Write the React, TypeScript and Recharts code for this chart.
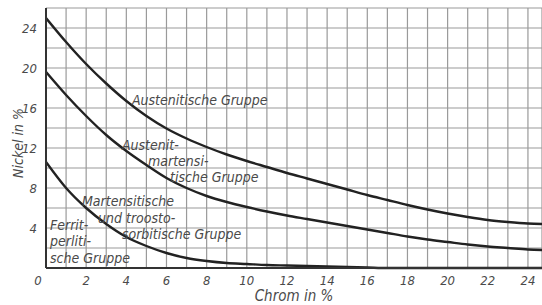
import React from "react";
import {
  LineChart,
  Line,
  XAxis,
  YAxis,
  CartesianGrid,
  ReferenceDot,
} from "recharts";

// Chrom in % (x)
const chrom = [0, 1, 2, 3, 4, 5, 6, 7, 8, 9, 10, 11, 12, 13, 14, 15, 16, 17, 18, 19, 20, 21, 22, 23, 24, 24.7];
// Nickel in % boundaries
const austenitisch = [25.0, 22.6, 20.4, 18.45, 16.7, 15.2, 13.95, 12.95, 12.1, 11.35, 10.7, 10.1, 9.5, 8.95, 8.4, 7.85, 7.3, 6.8, 6.3, 5.85, 5.45, 5.1, 4.8, 4.6, 4.45, 4.4];
const martensitisch = [19.6, 17.3, 15.2, 13.3, 11.7, 10.3, 9.0, 8.0, 7.2, 6.6, 6.1, 5.65, 5.25, 4.9, 4.55, 4.2, 3.85, 3.5, 3.15, 2.85, 2.6, 2.35, 2.15, 2.0, 1.85, 1.8];
const perlitisch = [10.6, 8.0, 6.0, 4.4, 3.1, 2.2, 1.5, 1.0, 0.7, 0.5, 0.4, 0.3, 0.25, 0.2, 0.15, 0.1, 0.05, 0, 0, 0, 0, 0, 0, 0, 0, 0];

const xTicks = [0, 1, 2, 3, 4, 5, 6, 7, 8, 9, 10, 11, 12, 13, 14, 15, 16, 17, 18, 19, 20, 21, 22, 23, 24];
const yTicks = [0, 2, 4, 6, 8, 10, 12, 14, 16, 18, 20, 22, 24, 26];

const labelText = [
  "Austenitische Gruppe",
  "Austenit-",
  "martensi-",
  "tische Gruppe",
  "Martensitische",
  "und troosto-",
  "sorbitische Gruppe",
  "Ferrit-",
  "perliti-",
  "sche Gruppe",
];
const labelX = [4.28, 3.78, 5.08, 6.18, 1.79, 2.59, 3.78, 0.2, 0.2, 0.2];
const labelY = [16.3, 11.8, 10.2, 8.6, 6.2, 4.5, 2.9, 3.8, 2.2, 0.5];

const data = chrom.map((c, i) => ({
  chrom: c,
  a: austenitisch[i],
  m: martensitisch[i],
  p: perlitisch[i],
}));

const font = "'DejaVu Sans Condensed', 'DejaVu Sans', sans-serif";
const textFill = "#4a4a4a";

const XTick = (props: any) => {
  const { x, y, payload } = props;
  const v = payload.value;
  if (v % 2 !== 0) return null;
  return (
    <text x={x + (v === 0 ? -8 : 0)} y={y + 15} textAnchor="middle" fontFamily={font} fontStyle="italic" fontSize={13} fill={textFill}>
      {v}
    </text>
  );
};

const YTick = (props: any) => {
  const { x, y, payload } = props;
  const v = payload.value;
  if (v === 0 || v % 4 !== 0 || v > 24) return null;
  return (
    <text x={x - 7} y={y + 5} textAnchor="end" fontFamily={font} fontStyle="italic" fontSize={13} fill={textFill}>
      {v}
    </text>
  );
};

const groupLabel = (text: string) => (props: any) => {
  const { viewBox } = props;
  return (
    <text x={viewBox.x} y={viewBox.y} fontFamily={font} fontStyle="italic" fontSize={14} fill={textFill}>
      {text}
    </text>
  );
};

export default function App() {
  return (
    <div style={{ position: "absolute", left: 0, top: 0, width: 542, height: 305, background: "#fff" }}>
      <LineChart width={542} height={305} data={data} margin={{ top: 8, right: 0, bottom: 0, left: 0 }}>
        <CartesianGrid stroke="#9a9a9a" strokeWidth={1.2} />
        <XAxis
          dataKey="chrom"
          type="number"
          domain={[0, 24.7]}
          allowDataOverflow
          ticks={xTicks}
          interval={0}
          height={37}
          tickSize={0}
          tick={<XTick />}
          axisLine={{ stroke: "#333", strokeWidth: 2 }}
          label={(p: any) => (
            <text x={p.viewBox.x + p.viewBox.width / 2} y={301} textAnchor="middle" fontFamily={font} fontStyle="italic" fontSize={15} fill={textFill}>
              Chrom in %
            </text>
          )}
        />
        <YAxis
          type="number"
          domain={[0, 26]}
          ticks={yTicks}
          interval={0}
          width={46}
          tickSize={0}
          tick={<YTick />}
          axisLine={{ stroke: "#333", strokeWidth: 2 }}
          label={(p: any) => {
            const cx = 19;
            const cy = p.viewBox.y + p.viewBox.height / 2 + 5;
            return (
              <text x={cx} y={cy} transform={`rotate(-90 ${cx} ${cy})`} textAnchor="middle" dominantBaseline="middle" fontFamily={font} fontStyle="italic" fontSize={14} fill={textFill}>
                Nickel in %
              </text>
            );
          }}
        />
        <Line type="monotone" dataKey="a" stroke="#222" strokeWidth={2.4} dot={false} isAnimationActive={false} />
        <Line type="monotone" dataKey="m" stroke="#222" strokeWidth={2.4} dot={false} isAnimationActive={false} />
        <Line type="monotone" dataKey="p" stroke="#222" strokeWidth={2.4} dot={false} isAnimationActive={false} />
        {labelText.map((t, i) => (
          <ReferenceDot key={t} x={labelX[i]} y={labelY[i]} r={0} fill="none" stroke="none" label={groupLabel(t)} />
        ))}
      </LineChart>
    </div>
  );
}
